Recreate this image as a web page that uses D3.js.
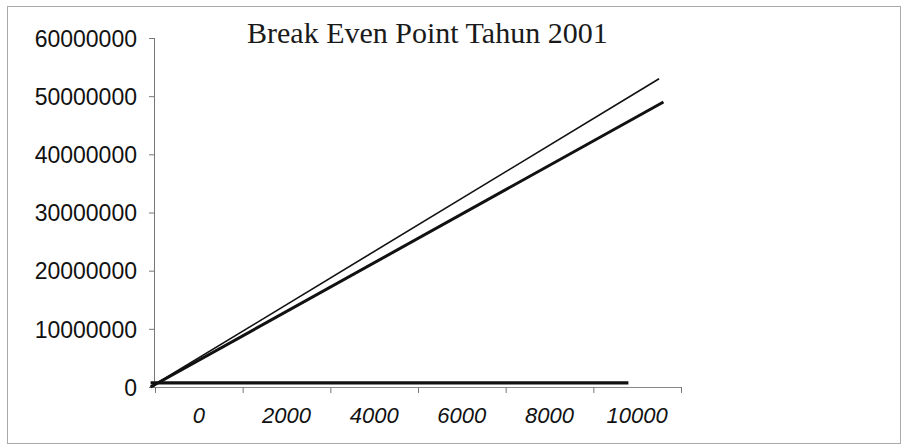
<!DOCTYPE html>
<html lang="en">
    <head>
        <meta charset="UTF-8" />
        <title>Break Even Point Tahun 2001</title>
        <script src="https://cdn.jsdelivr.net/npm/d3@7"></script>
        <style>
            body { margin: 0; background: #fff; }
            .ylab { font-family: "Liberation Sans", Arial, sans-serif; font-size: 23px; fill: #111; }
            .xlab { font-family: "Liberation Sans", Arial, sans-serif; font-size: 22px; font-style: italic; fill: #111; }
            .title { font-family: "Liberation Serif", "Times New Roman", serif; font-size: 30px; fill: #1a1a1a; }
        </style>
    </head>
    <body>
        <div id="main_div"></div>
        <script>
          // data
          const yTicks = [0, 10000000, 20000000, 30000000, 40000000, 50000000, 60000000];
          const xLabels = [0, 2000, 4000, 6000, 8000, 10000];
          const xTicks = [-1000, 1000, 3000, 5000, 7000, 9000, 11000];

          const revenueQ = [-1100, 10500];
          const revenueV = [0, 53000000];
          const totalCostQ = [-1100, 10600];
          const totalCostV = [0, 49000000];
          const fixedCostQ = [-1100, 9800];
          const fixedCostV = [700000, 700000];

          const svg = d3.select("#main_div")
                      .append("svg")
                      .attr("width", 908)
                      .attr("height", 448);

          // chart frame
          svg.append("rect")
             .attr("x", 7.5)
             .attr("y", 6.5)
             .attr("width", 893)
             .attr("height", 437)
             .attr("fill", "none")
             .attr("stroke", "#aaa")
             .attr("stroke-width", 1);

          const x = d3.scaleLinear().domain([-1000, 11000]).range([155, 681]);
          const y = d3.scaleLinear().domain([0, 60000000]).range([387, 38]);

          // y axis
          const yAxis = svg.append("g")
                           .attr("transform", "translate(155,0)")
                           .call(d3.axisLeft(y).tickValues(yTicks).tickSize(6).tickFormat(d3.format("d")));
          yAxis.attr("font-family", null).attr("font-size", null);
          yAxis.select(".domain").attr("stroke", "#777").attr("d", `M-0.5,${y(60000000)}V${y(0)}`);
          yAxis.selectAll(".tick line").attr("stroke", "#777");
          yAxis.selectAll(".tick text")
               .attr("class", "ylab")
               .attr("x", -18)
               .attr("dy", "0.36em");

          // x axis: ticks between categories, labels centred
          const xAxis = svg.append("g")
                           .attr("transform", "translate(0,387)")
                           .call(d3.axisBottom(x).tickValues(xTicks).tickSize(6).tickFormat(""));
          xAxis.select(".domain").attr("stroke", "#888").attr("d", `M${x(-1000)},0.5H${x(11000)}`);
          xAxis.selectAll(".tick line").attr("stroke", "#777");

          svg.selectAll(".xlab")
             .data(xLabels)
             .enter()
             .append("text")
             .attr("class", "xlab")
             .attr("x", d => x(d))
             .attr("y", 423)
             .attr("text-anchor", "middle")
             .text(d => d);

          // lines
          const line = d3.line().x(d => x(d[0])).y(d => y(d[1]));
          const series = [
            { q: fixedCostQ, v: fixedCostV, w: 3.2 },
            { q: totalCostQ, v: totalCostV, w: 3 },
            { q: revenueQ, v: revenueV, w: 1.6 }
          ];
          svg.selectAll(".series")
             .data(series)
             .enter()
             .append("path")
             .attr("class", "series")
             .attr("fill", "none")
             .attr("stroke", "#111")
             .attr("stroke-width", d => d.w)
             .attr("d", d => line(d.q.map((q, i) => [q, d.v[i]])));

          // title
          svg.append("text")
             .attr("class", "title")
             .attr("x", 247)
             .attr("y", 43)
             .text("Break Even Point Tahun 2001");
        </script>
    </body>
</html>
